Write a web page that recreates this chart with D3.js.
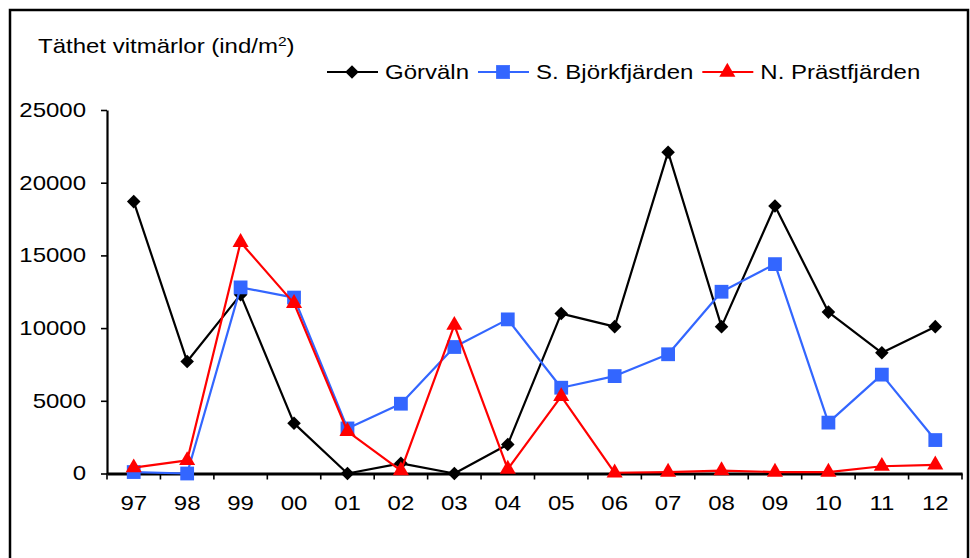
<!DOCTYPE html>
<html>
<head>
<meta charset="utf-8">
<script src="https://cdn.jsdelivr.net/npm/d3@7"></script>
<style>
  html, body { margin: 0; padding: 0; background: #fff; }
  svg text { font-family: "Liberation Sans", Arial, sans-serif; fill: #000; }
</style>
</head>
<body>
<svg id="chart" width="970" height="558"></svg>
<script>
// Years of sampling (two-digit)
const categories = ["97","98","99","00","01","02","03","04","05","06","07","08","09","10","11","12"];

// Density of gammarids per site (ind/m2)
const gorvaln      = [18700, 7700, 12300, 3450, 0, 700, 0, 2000, 11000, 10100, 22100, 10100, 18400, 11100, 8300, 10100];
const bjorkfjarden = [100, 0, 12800, 12100, 3100, 4800, 8700, 10600, 5900, 6700, 8200, 12500, 14400, 3500, 6800, 2300];
const prastfjarden = [400, 900, 15900, 11700, 2900, 200, 10200, 300, 5300, 50, 100, 200, 100, 100, 500, 600];

const seriesNames = ["Görväln", "S. Björkfjärden", "N. Prästfjärden"];
const yTicks = [0, 5000, 10000, 15000, 20000, 25000];

const svg = d3.select("#chart");
const W = 970, H = 558;
const FS = 20, SX = 1.2;   // font size and horizontal text stretch

const series = [
  { name: seriesNames[0], values: gorvaln,      color: "#000000", marker: "diamond" },
  { name: seriesNames[1], values: bjorkfjarden, color: "#3366FF", marker: "square" },
  { name: seriesNames[2], values: prastfjarden, color: "#FF0000", marker: "triangle" }
];

// Outer frame
svg.append("rect")
  .attr("x", 10).attr("y", 10).attr("width", 958).attr("height", 570)
  .attr("fill", "none").attr("stroke", "#000").attr("stroke-width", 2.5);

const plot = { left: 107, right: 962, top: 110, bottom: 473.5 };

const x = d3.scaleBand().domain(categories).range([plot.left, plot.right]).padding(0);
const y = d3.scaleLinear().domain([0, 25000]).range([plot.bottom, plot.top]);

// Y axis
const yAxis = svg.append("g")
  .attr("transform", `translate(${plot.left},0)`)
  .call(d3.axisLeft(y).tickValues(yTicks).tickSize(6).tickSizeOuter(0).tickFormat(d3.format("d")));
yAxis.select(".domain").attr("stroke", "#000").attr("stroke-width", 2.2);
yAxis.selectAll(".tick line").attr("stroke", "#000").attr("stroke-width", 1.6);
yAxis.selectAll(".tick text")
  .attr("font-size", FS)
  .attr("font-family", "Liberation Sans, Arial, sans-serif")
  .attr("x", -21 / SX)
  .attr("transform", `scale(${SX},1)`);

// X axis: labels centred in each band, tick marks on band boundaries
const xAxis = svg.append("g")
  .attr("transform", `translate(0,${plot.bottom})`)
  .call(d3.axisBottom(x).tickSize(0).tickSizeOuter(0).tickPadding(22));
xAxis.select(".domain").attr("stroke", "#000").attr("stroke-width", 2.8);
xAxis.selectAll(".tick text")
  .attr("font-size", FS)
  .attr("font-family", "Liberation Sans, Arial, sans-serif")
  .attr("transform", `scale(${SX},1)`);

const boundaries = categories.map(c => x(c)).concat([x.range()[1]]);
xAxis.selectAll("line.bound")
  .data(boundaries)
  .join("line")
  .attr("class", "bound")
  .attr("x1", d => d).attr("x2", d => d)
  .attr("y1", 0).attr("y2", 6)
  .attr("stroke", "#000").attr("stroke-width", 1.6);

// Marker shapes
function markerPath(kind) {
  if (kind === "diamond") return d3.symbol().type(d3.symbolSquare).size(92)();
  if (kind === "square") return d3.symbol().type(d3.symbolSquare).size(190)();
  return d3.symbol().type(d3.symbolTriangle).size(112)();
}
function markerTransform(kind, cx, cy) {
  return kind === "diamond" ? `translate(${cx},${cy}) rotate(45)` : `translate(${cx},${cy})`;
}

const line = d3.line()
  .x((d, i) => x(categories[i]) + x.bandwidth() / 2)
  .y(d => y(d));

series.forEach(s => {
  const g = svg.append("g");
  g.append("path")
    .datum(s.values)
    .attr("d", line)
    .attr("fill", "none")
    .attr("stroke", s.color)
    .attr("stroke-width", 2.2)
    .attr("stroke-linejoin", "round");
  g.selectAll("path.mk")
    .data(s.values)
    .join("path")
    .attr("class", "mk")
    .attr("d", markerPath(s.marker))
    .attr("transform", (d, i) => markerTransform(s.marker, x(categories[i]) + x.bandwidth() / 2, y(d)))
    .attr("fill", s.color);
});

// Y axis title
const title = svg.append("text")
  .attr("transform", `translate(38,53) scale(${SX},1)`)
  .attr("font-size", FS);
title.append("tspan").text("Täthet vitmärlor (ind/m");
title.append("tspan").attr("font-size", 13).attr("dy", -7).text("2");
title.append("tspan").attr("dy", 7).text(")");

// Legend
const legendY = 72;
let lx = 327;
series.forEach(s => {
  const lg = svg.append("g");
  lg.append("line")
    .attr("x1", lx).attr("x2", lx + 51)
    .attr("y1", legendY).attr("y2", legendY)
    .attr("stroke", s.color).attr("stroke-width", 2.2);
  lg.append("path")
    .attr("d", markerPath(s.marker))
    .attr("transform", markerTransform(s.marker, lx + 25, legendY))
    .attr("fill", s.color);
  const t = lg.append("text")
    .attr("transform", `translate(${lx + 58},${legendY + 7}) scale(${SX},1)`)
    .attr("font-size", FS)
    .text(s.name);
  const w = t.node().getComputedTextLength() * SX;
  lx = lx + 58 + w + 9;
});
</script>
</body>
</html>
